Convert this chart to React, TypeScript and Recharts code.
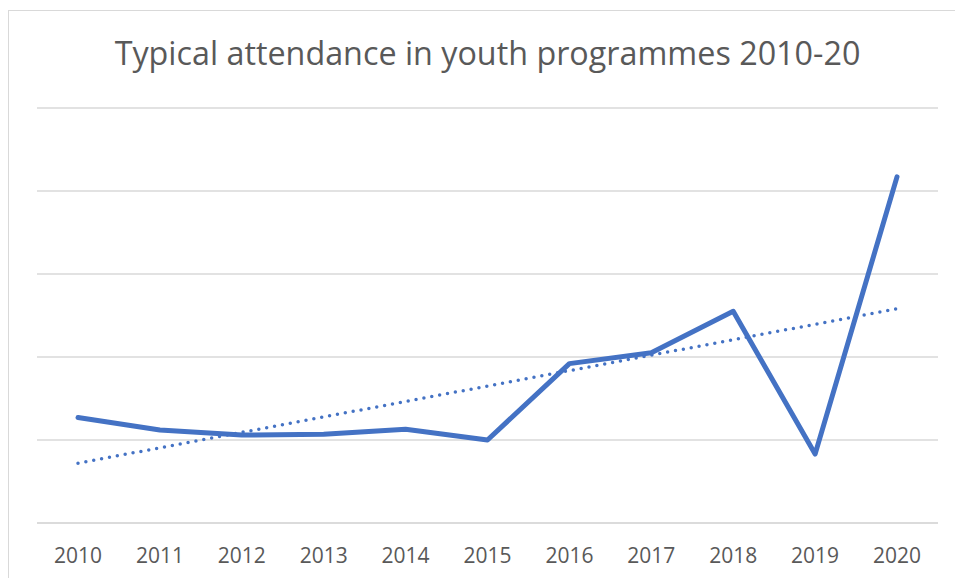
import React from 'react'
import { LineChart, Line, XAxis, YAxis, CartesianGrid, ReferenceLine } from 'recharts'

const years = ['2010', '2011', '2012', '2013', '2014', '2015', '2016', '2017', '2018', '2019', '2020']
const attendance = [1.27, 1.12, 1.06, 1.07, 1.13, 1.0, 1.92, 2.05, 2.55, 0.83, 4.17]
const yTicks = [0, 1, 2, 3, 4, 5]
// linear trendline endpoints
const trendStart = 0.72
const trendEnd = 2.58

const BLUE = '#4472C4'
const GREY_TEXT = '#595959'
const GRID = '#D9D9D9'
const FONT = '"Open Sans", "Liberation Sans", sans-serif'

export default function App() {
  const data = years.map((y, i) => ({ year: y, value: attendance[i] }))

  return (
    <div
      style={{
        position: 'absolute',
        left: 8,
        top: 10,
        width: 946,
        height: 567,
        borderTop: `1px solid ${GRID}`,
        borderLeft: `1px solid ${GRID}`,
        background: '#fff',
      }}
    >
      <div
        style={{
          position: 'absolute',
          left: 28,
          width: 901,
          top: 25,
          textAlign: 'center',
          fontFamily: FONT,
          fontSize: 32.3,
          lineHeight: '32px',
          color: GREY_TEXT,
          whiteSpace: 'nowrap',
        }}
      >
        Typical attendance in youth programmes 2010-20
      </div>
      <LineChart
        width={946}
        height={567}
        data={data}
        margin={{ top: 97, right: 17, bottom: 25, left: 28 }}
      >
        <CartesianGrid vertical={false} stroke={GRID} strokeWidth={1.5} />
        <XAxis
          dataKey="year"
          height={30}
          padding={{ left: 41, right: 41 }}
          axisLine={{ stroke: GRID, strokeWidth: 1.5 }}
          tickLine={false}
          tickSize={0}
          tickMargin={25}
          tick={{ fill: GREY_TEXT, fontSize: 21, fontFamily: FONT }}
          interval={0}
        />
        <YAxis hide domain={[0, 5]} ticks={yTicks} />
        <ReferenceLine
          segment={[
            { x: years[0], y: trendStart },
            { x: years[years.length - 1], y: trendEnd },
          ]}
          stroke={BLUE}
          strokeWidth={3.5}
          strokeDasharray="0 8"
          strokeLinecap="round"
        />
        <Line
          type="linear"
          dataKey="value"
          stroke={BLUE}
          strokeWidth={5}
          strokeLinejoin="round"
          strokeLinecap="round"
          dot={false}
          activeDot={false}
          isAnimationActive={false}
        />
      </LineChart>
    </div>
  )
}
